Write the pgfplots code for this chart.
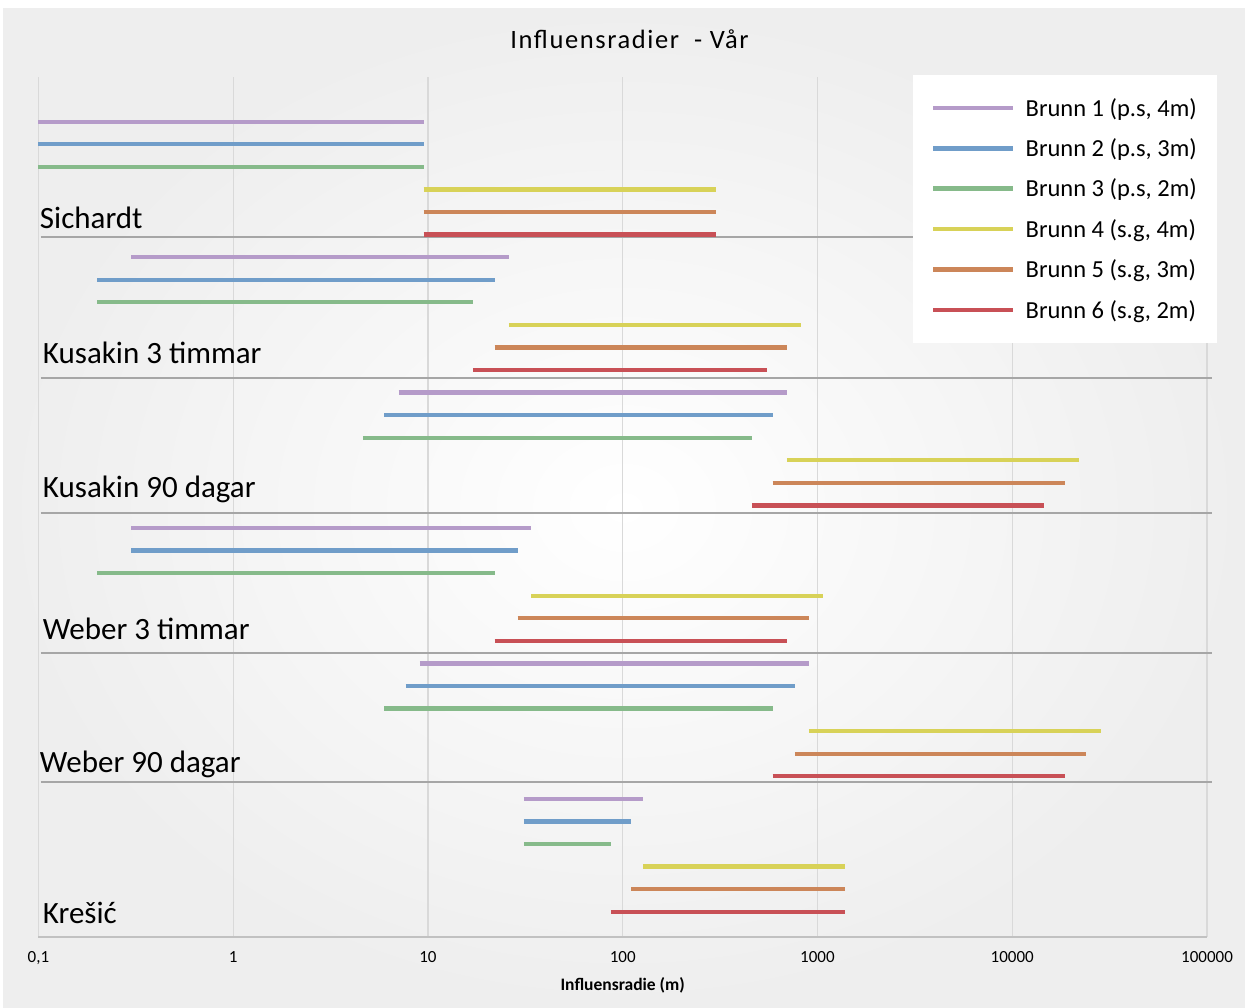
\documentclass[border=0pt]{standalone}
\usepackage{pgfplots}
\pgfplotsset{compat=1.18}
\usepackage{fontspec}
\setmainfont{Carlito}
\newfontfamily\titlefont[LetterSpace=6]{Carlito}
\definecolor{cA}{RGB}{181,155,201}
\definecolor{cB}{RGB}{112,157,201}
\definecolor{cC}{RGB}{134,186,138}
\definecolor{cD}{RGB}{216,210,88}
\definecolor{cE}{RGB}{204,134,89}
\definecolor{cF}{RGB}{200,80,86}
\definecolor{gridgray}{RGB}{217,217,217}
\definecolor{sepgray}{RGB}{166,166,166}
\newcommand{\seg}[4]{\addplot[#1, line width=4.2pt, line cap=butt, forget plot] coordinates {(#2,-#4) (#3,-#4)};}
\newcommand{\sep}[1]{\addplot[sepgray, line width=1.6pt, forget plot] coordinates {(0.1031,-#1) (105800,-#1)};}
\begin{document}
\begin{tikzpicture}[x=1pt,y=1pt]
\useasboundingbox (0,0) rectangle (1245,-1007);
\fill[white] (0,0) rectangle (1245,-1007);
\shade[inner color=white, outer color={rgb,255:red,238;green,238;blue,238}] (3,-8) rectangle (1245,-1007);
\begin{axis}[
  at={(38.4pt,-937pt)}, anchor=south west,
  scale only axis, width=1168.6pt, height=860pt,
  xmode=log, xmin=0.1, xmax=100000,
  ymin=-36.12, ymax=1.98,
  clip=false,
  axis line style={draw=none},
  ytick=\empty,
  xtick={0.1,1,10,100,1000,10000,100000},
  xticklabels={{0,1},1,10,100,1000,10000,100000},
  minor xtick={},
  major tick length=0pt, minor tick length=0pt,
  xmajorgrids,
  grid style={gridgray, line width=1.3pt},
  /pgf/number format/assume math mode=true,
  xticklabel style={font=\fontsize{17}{20}\selectfont, anchor=base, yshift=-25.5pt},
  xlabel={\textbf{Influensradie (m)}},
  xlabel style={font=\fontsize{17.5}{20}\selectfont, at={(axis description cs:0.5,0)}, anchor=base, yshift=-53pt},
  title={\titlefont Influensradier\ \ - Vår},
  title style={font=\fontsize{26.5}{30}\selectfont, at={(axis description cs:0.5058,1)}, anchor=base, yshift=23pt},
  legend style={at={(axis description cs:0.7484,1.0023)}, anchor=north west, draw=none, fill=white,
    font=\fontsize{24.5}{28}\selectfont, inner xsep=18pt, inner ysep=21pt, row sep=17pt},
  legend cell align=left,
  legend image code/.code={\draw[#1, line width=4.6pt] (0pt,0pt) -- (80pt,0pt); \path (90pt,0pt);},
  after end axis/.code={\draw[sepgray!70, line width=1.3pt] (rel axis cs:0,0) -- (rel axis cs:1,0);},
]
% separators
\sep{5.11}
\sep{11.36}
\sep{17.34}
\sep{23.54}
\sep{29.26}
% Sichardt
\seg{cA}{0.1}{9.5}{0}
\seg{cB}{0.1}{9.5}{1}
\seg{cC}{0.1}{9.5}{2}
\seg{cD}{9.5}{300}{3}
\seg{cE}{9.5}{300}{4}
\seg{cF}{9.5}{300}{5}
% Kusakin 3 timmar
\seg{cA}{0.3}{26}{6}
\seg{cB}{0.2}{22}{7}
\seg{cC}{0.2}{17}{8}
\seg{cD}{26}{827}{9}
\seg{cE}{22}{698}{10}
\seg{cF}{17}{550}{11}
% Kusakin 90 dagar
\seg{cA}{7.07}{697}{12}
\seg{cB}{5.97}{588}{13}
\seg{cC}{4.64}{460}{14}
\seg{cD}{697}{22040}{15}
\seg{cE}{588}{18690}{16}
\seg{cF}{460}{14530}{17}
% Weber 3 timmar
\seg{cA}{0.3}{33.9}{18}
\seg{cB}{0.3}{28.9}{19}
\seg{cC}{0.2}{22}{20}
\seg{cD}{33.9}{1062}{21}
\seg{cE}{28.9}{900}{22}
\seg{cF}{22}{700}{23}
% Weber 90 dagar
\seg{cA}{9.1}{903}{24}
\seg{cB}{7.68}{766}{25}
\seg{cC}{5.97}{588}{26}
\seg{cD}{903}{28400}{27}
\seg{cE}{766}{23960}{28}
\seg{cF}{588}{18690}{29}
% Kresic
\seg{cA}{31.1}{127.5}{30}
\seg{cB}{31.1}{110.6}{31}
\seg{cC}{31.1}{87}{32}
\seg{cD}{127.5}{1378}{33}
\seg{cE}{110.6}{1378}{34}
\seg{cF}{87}{1378}{35}
% group labels
\node[anchor=base west, font=\fontsize{31}{36}\selectfont, inner sep=0pt] at (axis cs:0.1016,-4.71) {Sichardt};
\node[anchor=base west, font=\fontsize{31}{36}\selectfont, inner sep=0pt] at (axis cs:0.1053,-10.71) {Kusakin 3 timmar};
\node[anchor=base west, font=\fontsize{31}{36}\selectfont, inner sep=0pt] at (axis cs:0.1053,-16.63) {Kusakin 90 dagar};
\node[anchor=base west, font=\fontsize{31}{36}\selectfont, inner sep=0pt] at (axis cs:0.1053,-22.96) {Weber 3 timmar};
\node[anchor=base west, font=\fontsize{31}{36}\selectfont, inner sep=0pt] at (axis cs:0.1016,-28.81) {Weber 90 dagar};
\node[anchor=base west, font=\fontsize{31}{36}\selectfont, inner sep=0pt] at (axis cs:0.1053,-35.5) {Krešić};
% legend
\addlegendimage{cA}\addlegendentry{Brunn 1 (p.s, 4m)}
\addlegendimage{cB}\addlegendentry{Brunn 2 (p.s, 3m)}
\addlegendimage{cC}\addlegendentry{Brunn 3 (p.s, 2m)}
\addlegendimage{cD}\addlegendentry{Brunn 4 (s.g, 4m)}
\addlegendimage{cE}\addlegendentry{Brunn 5 (s.g, 3m)}
\addlegendimage{cF}\addlegendentry{Brunn 6 (s.g, 2m)}
\end{axis}
\end{tikzpicture}
\end{document}
